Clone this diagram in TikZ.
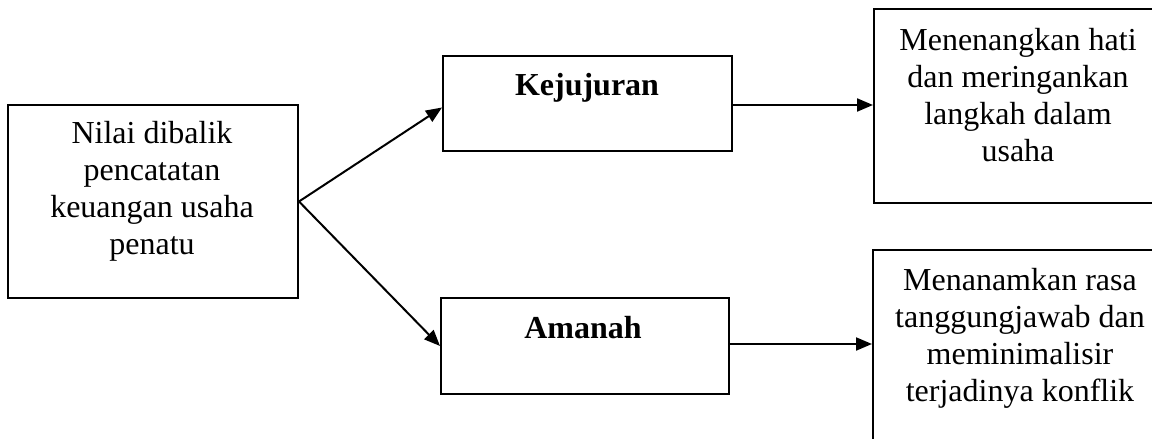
\documentclass[tikz,border=0pt]{standalone}
\usepackage{fontspec}
\setmainfont{Liberation Serif}
\usetikzlibrary{arrows.meta}
\begin{document}
\begin{tikzpicture}[x=1pt,y=-1pt,
  box/.style={draw, line width=2pt, inner sep=0pt, anchor=north west},
  txt/.style={align=center, inner sep=0pt, font=\fontsize{32}{37}\selectfont},
  arr/.style={-{Triangle[length=16pt,width=13pt]}, line width=2pt}]
\useasboundingbox (0,0) rectangle (1152,439);
\clip (0,0) rectangle (1152,439);
% boxes
\node[box, minimum width=290pt, minimum height=193pt] (src) at (7,104) {};
\node[box, minimum width=289pt, minimum height=95pt] (kej) at (442,55) {};
\node[box, minimum width=288pt, minimum height=96pt] (ama) at (440,297) {};
\node[box, minimum width=292pt, minimum height=194pt] (res1) at (873,8) {};
\node[box, minimum width=292pt, minimum height=215pt] (res2) at (872,249) {};
% texts
\node[txt, anchor=north] (srct) at (152,121) {Nilai dibalik\\pencatatan\\keuangan usaha\\penatu};
\node[txt, anchor=base, font=\fontsize{32}{37}\selectfont\bfseries] (kejt) at (587,95) {Kejujuran};
\node[txt, anchor=base, font=\fontsize{32}{37}\selectfont\bfseries] (amat) at (583,338) {Amanah};
\node[txt, anchor=north] (res1t) at (1018,28) {Menenangkan hati\\dan meringankan\\langkah dalam\\usaha};
\node[txt, anchor=north] (res2t) at (1020,268) {Menanamkan rasa\\tanggungjawab dan\\meminimalisir\\terjadinya konflik};
% arrows
\draw[arr] (src.east) -- ([yshift=-4pt]kej.west);
\draw[arr] (src.east) -- (ama.west);
\draw[arr] ([yshift=-1.5pt]kej.east) -- ([yshift=-1.5pt]kej.east -| res1.west);
\draw[arr] ([yshift=2pt]ama.east) -- ([yshift=2pt]ama.east -| res2.west);
\end{tikzpicture}
\end{document}
